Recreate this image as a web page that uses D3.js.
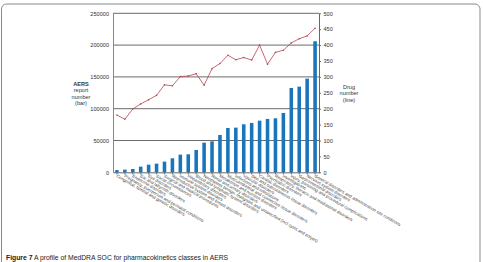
<!DOCTYPE html>
<html>
<head>
<meta charset="utf-8">
<script src="https://cdn.jsdelivr.net/npm/d3@7"></script>
<style>
  body { margin: 0; background: #fff; }
  svg { display: block; font-family: "Liberation Sans", Arial, sans-serif; }
  .axis text { fill: #333; }
</style>
</head>
<body>
<div id="chart"></div>
<script>
// chart size, the page is small so everything is tiny
const svgWidth = 483;
const svgHeight = 262;
const plot = { left: 113, right: 319, top: 13.3, bottom: 172.3 };

// MedDRA SOC, sorted by report count
const socNames = [
    "Congenital, familial and genetic disorders",
    "Pregnancy, puerperium and perinatal conditions",
    "Endocrine disorders",
    "Ear and labyrinth disorders",
    "Eye disorders",
    "Social circumstances",
    "Surgical and medical procedures",
    "Reproductive system and breast disorders",
    "Immune system disorders",
    "Hepatobiliary disorders",
    "Blood and lymphatic system disorders",
    "Neoplasms benign, malignant and unspecified (incl cysts and polyps)",
    "Renal and urinary disorders",
    "Metabolism and nutrition disorders",
    "Musculoskeletal and connective tissue disorders",
    "Infections and infestations",
    "Vascular disorders",
    "Skin and subcutaneous tissue disorders",
    "Cardiac disorders",
    "Psychiatric disorders",
    "Respiratory, thoracic and mediastinal disorders",
    "Investigations",
    "Injury, poisoning and procedural complications",
    "Gastrointestinal disorders",
    "Nervous system disorders",
    "General disorders and administration site conditions"
];
// AERS report number (bars, left axis)
const reportCounts = [3500, 4200, 5200, 8900, 12000, 13600, 16800, 22000, 27800, 28300,
    35100, 46600, 48700, 58700, 69700, 70200, 75500, 77600, 81200, 83900,
    84900, 93300, 132600, 134700, 147300, 206000];
// drug number (line, right axis)
const drugCounts = [180, 167, 199, 215, 228, 242, 275, 272, 301, 303,
    310, 274, 326, 342, 368, 354, 361, 353, 400, 340,
    377, 384, 407, 420, 429, 453];
const leftTicks = [0, 50000, 100000, 150000, 200000, 250000];
const rightTicks = [0, 50, 100, 150, 200, 250, 300, 350, 400, 450, 500];

const svg = d3.select("#chart")
    .append("svg")
    .attr("width", svgWidth)
    .attr("height", svgHeight);

// the figure frame, rounded, runs off the bottom
svg.append("rect")
    .attr("x", 1.5).attr("y", 4)
    .attr("width", 478.5).attr("height", 280)
    .attr("rx", 5)
    .attr("fill", "none")
    .attr("stroke", "#8a8a8a")
    .attr("stroke-width", 1);

const x = d3.scaleBand()
    .domain(socNames)
    .range([plot.left, plot.right])
    .paddingInner(0.55)
    .paddingOuter(0.27);

const yLeft = d3.scaleLinear()
    .domain([0, 250000])
    .range([plot.bottom, plot.top]);

const yRight = d3.scaleLinear()
    .domain([0, 500])
    .range([plot.bottom, plot.top]);

// horizontal grid lines
svg.append("g")
    .selectAll("line")
    .data(leftTicks.slice(1))
    .enter()
    .append("line")
    .attr("x1", plot.left)
    .attr("x2", plot.right)
    .attr("y1", d => yLeft(d))
    .attr("y2", d => yLeft(d))
    .attr("stroke", "#5a5a5a")
    .attr("stroke-width", 0.9);

// left axis
const leftAxis = svg.append("g")
    .attr("class", "axis")
    .attr("transform", `translate(${plot.left},0)`)
    .call(d3.axisLeft(yLeft).tickValues(leftTicks).tickSize(0).tickPadding(4).tickFormat(d3.format("d")));
leftAxis.select(".domain").attr("stroke", "#888");
leftAxis.selectAll("text").attr("font-size", "5.6px");

// right axis
const rightAxis = svg.append("g")
    .attr("class", "axis")
    .attr("transform", `translate(${plot.right},0)`)
    .call(d3.axisRight(yRight).tickValues(rightTicks).tickSize(2).tickSizeOuter(0).tickPadding(2.5));
rightAxis.selectAll("line, .domain").attr("stroke", "#666");
rightAxis.selectAll("text").attr("font-size", "5.6px");

// bottom axis with slanted category names
const bottomAxis = svg.append("g")
    .attr("class", "axis")
    .attr("transform", `translate(0,${plot.bottom})`)
    .call(d3.axisBottom(x).tickSize(2).tickSizeOuter(0));
bottomAxis.selectAll("line, .domain").attr("stroke", "#666");
bottomAxis.selectAll("text")
    .attr("font-size", "4.3px")
    .attr("fill", "#222")
    .attr("x", 0)
    .attr("y", 0)
    .attr("dy", 0)
    .attr("text-anchor", "start")
    .attr("transform", "translate(-1,4.5) rotate(30)");

// bars
svg.append("g")
    .selectAll("rect")
    .data(socNames)
    .enter()
    .append("rect")
    .attr("x", d => x(d))
    .attr("y", (d, i) => yLeft(reportCounts[i]))
    .attr("width", x.bandwidth())
    .attr("height", (d, i) => plot.bottom - yLeft(reportCounts[i]))
    .attr("fill", "#1b75bb");

// drug number line
const line = d3.line()
    .x((d, i) => x(socNames[i]) + x.bandwidth() / 2)
    .y(d => yRight(d));

svg.append("path")
    .datum(drugCounts)
    .attr("d", line)
    .attr("fill", "none")
    .attr("stroke", "#b44451")
    .attr("stroke-width", 0.8);

svg.append("g")
    .selectAll("circle")
    .data(drugCounts)
    .enter()
    .append("circle")
    .attr("cx", (d, i) => x(socNames[i]) + x.bandwidth() / 2)
    .attr("cy", d => yRight(d))
    .attr("r", 0.8)
    .attr("fill", "#b44451");

// axis titles
const leftTitle = svg.append("text")
    .attr("text-anchor", "middle")
    .attr("font-size", "5.6px")
    .attr("fill", "#333");
leftTitle.append("tspan").attr("x", 81).attr("y", 86).attr("font-weight", "bold").text("AERS");
leftTitle.append("tspan").attr("x", 81).attr("y", 92.3).text("report");
leftTitle.append("tspan").attr("x", 81).attr("y", 98.6).text("number");
leftTitle.append("tspan").attr("x", 81).attr("y", 104.9).text("(bar)");

const rightTitle = svg.append("text")
    .attr("text-anchor", "middle")
    .attr("font-size", "5.6px")
    .attr("fill", "#333");
rightTitle.append("tspan").attr("x", 349).attr("y", 89).text("Drug");
rightTitle.append("tspan").attr("x", 349).attr("y", 95.3).text("number");
rightTitle.append("tspan").attr("x", 349).attr("y", 101.6).text("(line)");

// caption at the bottom of the frame
const caption = svg.append("text")
    .attr("x", 6)
    .attr("y", 259.5)
    .attr("font-size", "6.8px")
    .attr("fill", "#222");
caption.append("tspan").attr("font-weight", "bold").text("Figure 7");
caption.append("tspan").text(" A profile of MedDRA SOC for pharmacokinetics classes in AERS");
</script>
</body>
</html>
